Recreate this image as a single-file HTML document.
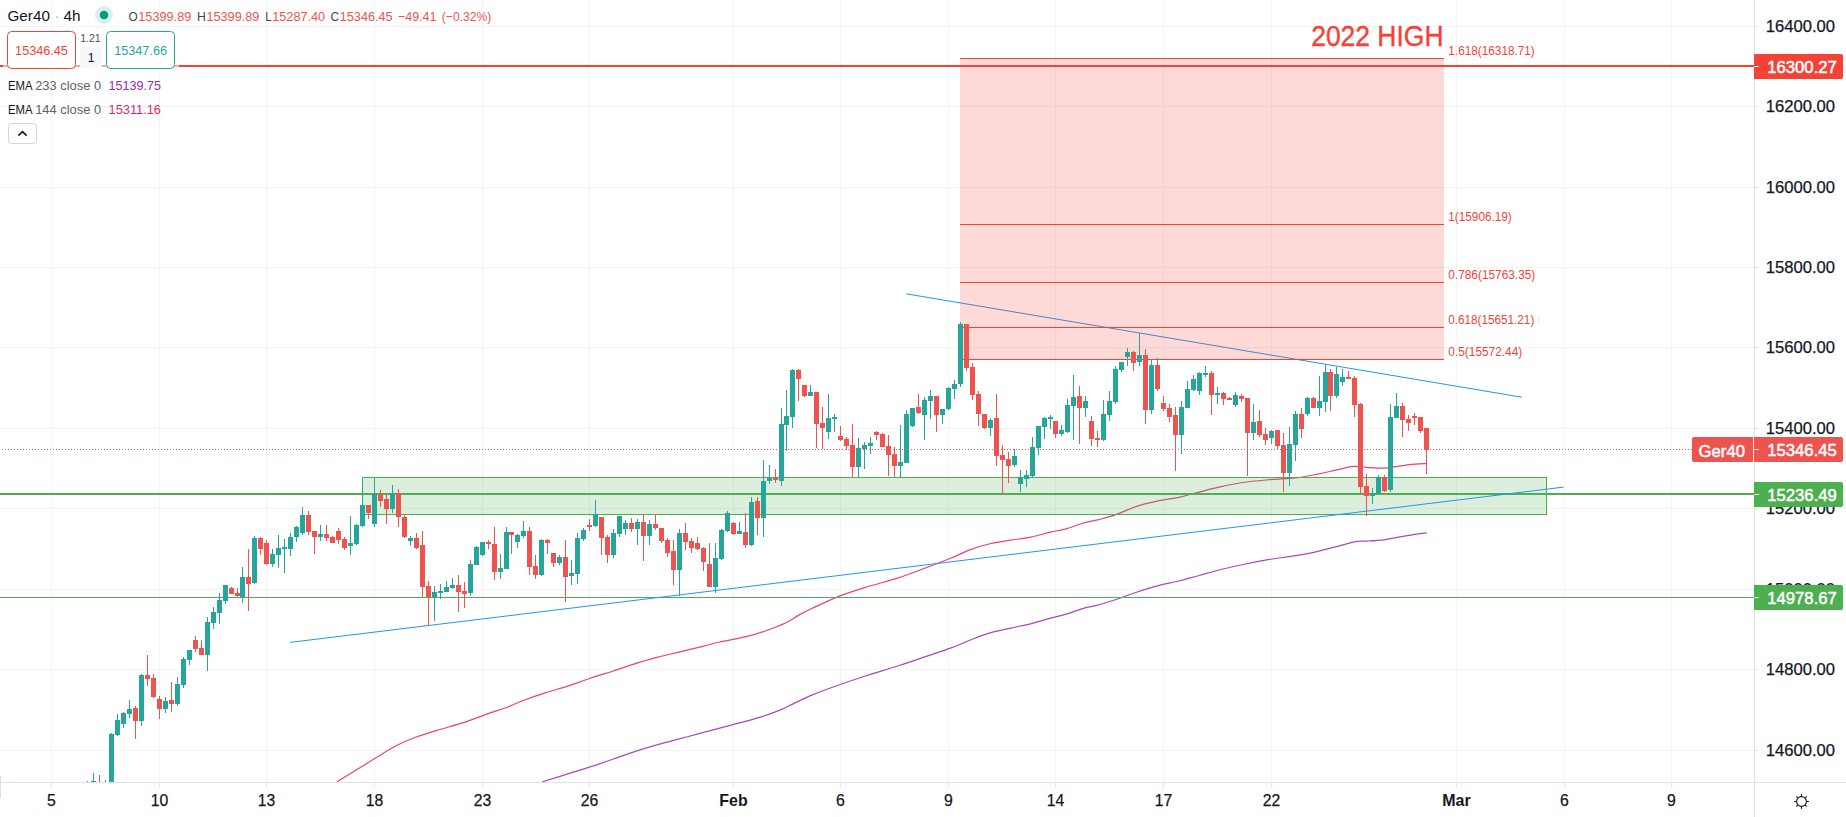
<!DOCTYPE html>
<html><head><meta charset="utf-8"><title>Ger40 4h chart</title>
<style>html,body{margin:0;padding:0;background:#fff;overflow:hidden}svg{display:block}text{font-family:"Liberation Sans", sans-serif;white-space:pre}</style></head><body>
<svg width="1846" height="817" viewBox="0 0 1846 817">
<rect width="1846" height="817" fill="#fff"/>
<defs><clipPath id="pane"><rect x="0" y="0" width="1754" height="782"/></clipPath></defs>
<g shape-rendering="crispEdges" fill="#f3f4f6">
<rect x="51" y="0" width="1" height="782"/>
<rect x="159" y="0" width="1" height="782"/>
<rect x="266" y="0" width="1" height="782"/>
<rect x="374" y="0" width="1" height="782"/>
<rect x="482" y="0" width="1" height="782"/>
<rect x="589" y="0" width="1" height="782"/>
<rect x="733" y="0" width="1" height="782"/>
<rect x="840" y="0" width="1" height="782"/>
<rect x="948" y="0" width="1" height="782"/>
<rect x="1055" y="0" width="1" height="782"/>
<rect x="1163" y="0" width="1" height="782"/>
<rect x="1271" y="0" width="1" height="782"/>
<rect x="1456" y="0" width="1" height="782"/>
<rect x="1564" y="0" width="1" height="782"/>
<rect x="1671" y="0" width="1" height="782"/>
<rect x="0" y="26" width="1754" height="1"/>
<rect x="0" y="106" width="1754" height="1"/>
<rect x="0" y="187" width="1754" height="1"/>
<rect x="0" y="267" width="1754" height="1"/>
<rect x="0" y="347" width="1754" height="1"/>
<rect x="0" y="428" width="1754" height="1"/>
<rect x="0" y="508" width="1754" height="1"/>
<rect x="0" y="589" width="1754" height="1"/>
<rect x="0" y="669" width="1754" height="1"/>
<rect x="0" y="750" width="1754" height="1"/>
</g>
<g clip-path="url(#pane)">
<path fill="none" stroke="#ab47bc" stroke-width="1.2" d="M542.4 781.8 C546.6 780.5 559.7 776.4 567.7 773.9 C575.7 771.4 582.7 769.3 590.2 766.9 C597.7 764.5 605.2 761.9 612.7 759.3 C620.2 756.7 627.8 753.8 635.3 751.4 C642.8 749.0 650.3 746.8 657.8 744.7 C665.3 742.6 672.8 740.7 680.3 738.7 C687.8 736.7 694.0 735.0 702.8 732.6 C711.6 730.2 723.6 727.1 733.1 724.6 C742.6 722.1 751.8 719.8 759.5 717.4 C767.2 715.0 773.8 712.6 779.3 710.4 C784.8 708.2 787.1 706.7 792.6 704.1 C798.1 701.5 804.7 698.1 812.4 694.9 C820.1 691.7 830.0 688.1 838.8 685.0 C847.6 681.9 855.4 679.2 865.3 676.0 C875.2 672.8 888.4 669.0 898.3 665.8 C908.2 662.6 916.0 659.9 924.8 656.9 C933.6 653.9 943.5 650.8 951.2 647.9 C958.9 645.0 964.5 642.2 971.1 639.7 C977.7 637.2 984.3 634.6 990.9 632.7 C997.5 630.8 1004.1 629.6 1010.7 628.1 C1017.3 626.6 1024.0 625.4 1030.6 623.8 C1037.2 622.1 1044.4 619.9 1050.4 618.2 C1056.5 616.6 1061.4 615.5 1066.9 613.9 C1072.4 612.2 1078.4 609.8 1083.5 608.3 C1088.6 606.8 1092.3 606.6 1097.6 605.2 C1102.9 603.8 1108.7 601.9 1115.3 599.7 C1121.9 597.5 1130.0 594.4 1137.3 592.0 C1144.6 589.6 1152.3 587.2 1159.3 585.4 C1166.3 583.6 1172.5 582.6 1179.1 581.0 C1185.7 579.4 1192.0 577.4 1199.0 575.5 C1206.0 573.6 1213.7 571.3 1221.0 569.5 C1228.3 567.7 1234.9 566.2 1243.0 564.5 C1251.1 562.8 1260.7 560.9 1269.5 559.4 C1278.3 557.9 1287.8 557.1 1295.9 555.7 C1304.0 554.4 1311.3 552.8 1317.9 551.3 C1324.5 549.8 1329.5 548.5 1335.6 546.9 C1341.7 545.3 1349.2 542.8 1354.3 541.8 C1359.4 540.8 1361.5 541.4 1366.4 541.1 C1371.4 540.8 1378.8 540.4 1384.0 539.8 C1389.2 539.2 1392.1 538.3 1397.3 537.4 C1402.5 536.5 1410.0 535.1 1414.9 534.3 C1419.8 533.5 1424.8 533.0 1426.8 532.8"/>
<path fill="none" stroke="#ec407a" stroke-width="1.2" d="M336.9 781.8 C340.2 779.8 350.0 773.7 356.6 769.7 C363.2 765.7 369.7 761.6 376.3 757.6 C382.9 753.6 389.4 749.2 396.0 745.8 C402.6 742.4 408.7 739.9 415.7 737.3 C422.7 734.7 430.0 732.5 438.2 730.0 C446.4 727.5 456.6 724.9 465.0 722.1 C473.4 719.3 482.1 715.8 488.9 713.4 C495.7 711.0 500.2 709.9 505.8 707.8 C511.4 705.7 516.1 703.2 522.7 700.7 C529.3 698.2 537.7 695.3 545.2 692.9 C552.7 690.5 560.2 688.5 567.7 686.1 C575.2 683.7 582.7 680.7 590.2 678.2 C597.7 675.7 605.2 673.6 612.7 671.2 C620.2 668.8 627.8 666.0 635.3 663.6 C642.8 661.2 650.3 659.1 657.8 657.1 C665.3 655.1 672.8 653.6 680.3 651.8 C687.8 650.0 696.2 648.0 702.8 646.4 C709.4 644.8 712.5 643.6 719.8 642.0 C727.0 640.4 738.6 638.6 746.3 636.7 C754.0 634.8 759.5 633.0 766.1 630.7 C772.7 628.4 780.5 625.4 786.0 622.8 C791.5 620.2 794.8 617.3 799.2 614.9 C803.6 612.5 805.8 611.4 812.4 608.3 C819.0 605.2 830.0 599.9 838.8 596.4 C847.6 592.9 855.4 590.5 865.3 587.4 C875.2 584.3 888.4 581.1 898.3 577.9 C908.2 574.7 916.0 571.6 924.8 568.3 C933.6 565.0 943.5 561.1 951.2 558.0 C958.9 554.9 964.5 551.8 971.1 549.4 C977.7 547.0 984.3 545.0 990.9 543.5 C997.5 542.0 1004.1 541.2 1010.7 540.2 C1017.3 539.2 1024.0 538.5 1030.6 537.2 C1037.2 535.9 1044.4 533.6 1050.4 532.2 C1056.5 530.8 1061.4 530.1 1066.9 528.6 C1072.4 527.1 1078.4 524.5 1083.5 523.0 C1088.6 521.5 1092.3 521.1 1097.6 519.8 C1102.9 518.4 1108.7 517.2 1115.3 514.9 C1121.9 512.6 1130.0 508.5 1137.3 506.1 C1144.6 503.7 1152.3 502.1 1159.3 500.6 C1166.3 499.1 1172.5 498.7 1179.1 497.3 C1185.7 495.9 1192.0 494.0 1199.0 492.2 C1206.0 490.4 1213.7 488.3 1221.0 486.7 C1228.3 485.1 1234.9 483.7 1243.0 482.5 C1251.1 481.3 1260.7 480.5 1269.5 479.7 C1278.3 478.9 1287.8 478.8 1295.9 477.9 C1304.0 477.0 1311.3 475.4 1317.9 474.1 C1324.5 472.8 1329.7 471.5 1335.6 470.2 C1341.5 468.9 1348.1 466.9 1353.2 466.4 C1358.3 465.9 1361.3 467.0 1366.4 467.3 C1371.5 467.6 1378.8 468.4 1384.0 468.2 C1389.2 468.0 1392.1 467.1 1397.3 466.4 C1402.5 465.7 1410.1 464.7 1414.9 464.2 C1419.7 463.7 1424.4 463.7 1426.3 463.6"/>
</g>
<g clip-path="url(#pane)">
<line x1="906.1" y1="293.8" x2="1521.8" y2="397.2" stroke="#2196f3" stroke-width="1"/>
<rect x="960" y="58" width="484" height="302" fill="#f44336" fill-opacity="0.2"/>
<g shape-rendering="crispEdges" fill="#f44336">
<rect x="960" y="58" width="484" height="1"/>
<rect x="960" y="224" width="484" height="1"/>
<rect x="960" y="282" width="484" height="1"/>
<rect x="960" y="327" width="484" height="1"/>
<rect x="960" y="359" width="484" height="1"/>
<rect x="0" y="65" width="1754" height="2"/>
</g>
<rect x="362.5" y="477.5" width="1184" height="37" fill="#4caf50" fill-opacity="0.2" stroke="#4caf50" stroke-width="1"/>
<g shape-rendering="crispEdges" fill="#4caf50">
<rect x="0" y="493" width="1754" height="2"/>
<rect x="0" y="597" width="1754" height="1"/>
</g>
<line x1="290.1" y1="642.4" x2="1563.7" y2="487.1" stroke="#2196f3" stroke-width="1"/>
<rect x="1538" y="317" width="1" height="5" fill="#f44336" fill-opacity="0.18"/>
<text x="1311.2" y="46.0" font-size="29" fill="#f44336" textLength="132.3" lengthAdjust="spacingAndGlyphs" stroke="#f44336" stroke-width="0.4">2022 HIGH</text>
<text x="1448.3" y="55.1" font-size="12" fill="#f44336" textLength="86.5" lengthAdjust="spacingAndGlyphs">1.618(16318.71)</text>
<text x="1448.3" y="221.0" font-size="12" fill="#f44336" textLength="63.5" lengthAdjust="spacingAndGlyphs">1(15906.19)</text>
<text x="1448.3" y="279.1" font-size="12" fill="#f44336" textLength="87.0" lengthAdjust="spacingAndGlyphs">0.786(15763.35)</text>
<text x="1448.3" y="324.1" font-size="12" fill="#f44336" textLength="86.0" lengthAdjust="spacingAndGlyphs">0.618(15651.21)</text>
<text x="1448.3" y="355.9" font-size="12" fill="#f44336" textLength="74.0" lengthAdjust="spacingAndGlyphs">0.5(15572.44)</text>
</g>
<g clip-path="url(#pane)" shape-rendering="crispEdges">
<rect x="87" y="781" width="1" height="7" fill="#26a69a"/><rect x="85" y="787" width="5" height="1" fill="#26a69a"/>
<rect x="93" y="773" width="1" height="14" fill="#26a69a"/><rect x="91" y="781" width="5" height="6" fill="#26a69a"/>
<rect x="99" y="775" width="1" height="13" fill="#ef5350"/><rect x="97" y="787" width="5" height="1" fill="#ef5350"/>
<rect x="105" y="780" width="1" height="8" fill="#26a69a"/><rect x="103" y="787" width="5" height="1" fill="#26a69a"/>
<rect x="111" y="733" width="1" height="54" fill="#26a69a"/><rect x="109" y="734" width="5" height="53" fill="#26a69a"/>
<rect x="117" y="714" width="1" height="22" fill="#26a69a"/><rect x="115" y="720" width="5" height="15" fill="#26a69a"/>
<rect x="123" y="712" width="1" height="16" fill="#26a69a"/><rect x="121" y="713" width="5" height="11" fill="#26a69a"/>
<rect x="129" y="700" width="1" height="18" fill="#26a69a"/><rect x="127" y="709" width="5" height="5" fill="#26a69a"/>
<rect x="135" y="706" width="1" height="33" fill="#ef5350"/><rect x="133" y="708" width="5" height="13" fill="#ef5350"/>
<rect x="141" y="674" width="1" height="52" fill="#26a69a"/><rect x="139" y="675" width="5" height="46" fill="#26a69a"/>
<rect x="147" y="655" width="1" height="31" fill="#ef5350"/><rect x="145" y="675" width="5" height="4" fill="#ef5350"/>
<rect x="153" y="674" width="1" height="24" fill="#ef5350"/><rect x="151" y="678" width="5" height="19" fill="#ef5350"/>
<rect x="159" y="696" width="1" height="23" fill="#ef5350"/><rect x="157" y="699" width="5" height="10" fill="#ef5350"/>
<rect x="165" y="697" width="1" height="16" fill="#26a69a"/><rect x="163" y="701" width="5" height="8" fill="#26a69a"/>
<rect x="171" y="682" width="1" height="30" fill="#ef5350"/><rect x="169" y="700" width="5" height="4" fill="#ef5350"/>
<rect x="177" y="677" width="1" height="29" fill="#26a69a"/><rect x="175" y="684" width="5" height="20" fill="#26a69a"/>
<rect x="183" y="657" width="1" height="31" fill="#26a69a"/><rect x="181" y="659" width="5" height="26" fill="#26a69a"/>
<rect x="189" y="650" width="1" height="15" fill="#26a69a"/><rect x="187" y="650" width="5" height="10" fill="#26a69a"/>
<rect x="195" y="636" width="1" height="16" fill="#ef5350"/><rect x="193" y="640" width="5" height="9" fill="#ef5350"/>
<rect x="201" y="640" width="1" height="15" fill="#ef5350"/><rect x="199" y="648" width="5" height="7" fill="#ef5350"/>
<rect x="207" y="617" width="1" height="54" fill="#26a69a"/><rect x="205" y="622" width="5" height="33" fill="#26a69a"/>
<rect x="213" y="607" width="1" height="22" fill="#26a69a"/><rect x="211" y="612" width="5" height="11" fill="#26a69a"/>
<rect x="219" y="593" width="1" height="31" fill="#26a69a"/><rect x="217" y="600" width="5" height="13" fill="#26a69a"/>
<rect x="225" y="585" width="1" height="19" fill="#26a69a"/><rect x="223" y="585" width="5" height="16" fill="#26a69a"/>
<rect x="231" y="587" width="1" height="7" fill="#ef5350"/><rect x="229" y="588" width="5" height="6" fill="#ef5350"/>
<rect x="237" y="588" width="1" height="9" fill="#ef5350"/><rect x="235" y="593" width="5" height="3" fill="#ef5350"/>
<rect x="242" y="567" width="1" height="36" fill="#26a69a"/><rect x="240" y="577" width="5" height="20" fill="#26a69a"/>
<rect x="248" y="549" width="1" height="62" fill="#ef5350"/><rect x="246" y="577" width="5" height="7" fill="#ef5350"/>
<rect x="254" y="536" width="1" height="48" fill="#26a69a"/><rect x="252" y="538" width="5" height="45" fill="#26a69a"/>
<rect x="260" y="537" width="1" height="18" fill="#ef5350"/><rect x="258" y="538" width="5" height="11" fill="#ef5350"/>
<rect x="266" y="540" width="1" height="25" fill="#ef5350"/><rect x="264" y="543" width="5" height="21" fill="#ef5350"/>
<rect x="272" y="549" width="1" height="18" fill="#26a69a"/><rect x="270" y="554" width="5" height="10" fill="#26a69a"/>
<rect x="278" y="535" width="1" height="33" fill="#26a69a"/><rect x="276" y="548" width="5" height="7" fill="#26a69a"/>
<rect x="284" y="539" width="1" height="34" fill="#26a69a"/><rect x="282" y="547" width="5" height="2" fill="#26a69a"/>
<rect x="290" y="533" width="1" height="23" fill="#26a69a"/><rect x="288" y="537" width="5" height="12" fill="#26a69a"/>
<rect x="296" y="526" width="1" height="16" fill="#26a69a"/><rect x="294" y="527" width="5" height="10" fill="#26a69a"/>
<rect x="302" y="507" width="1" height="28" fill="#26a69a"/><rect x="300" y="515" width="5" height="18" fill="#26a69a"/>
<rect x="308" y="511" width="1" height="24" fill="#ef5350"/><rect x="306" y="515" width="5" height="17" fill="#ef5350"/>
<rect x="314" y="531" width="1" height="23" fill="#ef5350"/><rect x="312" y="531" width="5" height="6" fill="#ef5350"/>
<rect x="320" y="525" width="1" height="16" fill="#26a69a"/><rect x="318" y="534" width="5" height="3" fill="#26a69a"/>
<rect x="326" y="525" width="1" height="16" fill="#ef5350"/><rect x="324" y="534" width="5" height="4" fill="#ef5350"/>
<rect x="332" y="536" width="1" height="7" fill="#ef5350"/><rect x="330" y="537" width="5" height="6" fill="#ef5350"/>
<rect x="338" y="528" width="1" height="16" fill="#ef5350"/><rect x="336" y="531" width="5" height="9" fill="#ef5350"/>
<rect x="344" y="537" width="1" height="13" fill="#ef5350"/><rect x="342" y="539" width="5" height="9" fill="#ef5350"/>
<rect x="350" y="516" width="1" height="39" fill="#26a69a"/><rect x="348" y="543" width="5" height="3" fill="#26a69a"/>
<rect x="356" y="524" width="1" height="21" fill="#26a69a"/><rect x="354" y="525" width="5" height="19" fill="#26a69a"/>
<rect x="362" y="477" width="1" height="50" fill="#26a69a"/><rect x="360" y="505" width="5" height="21" fill="#26a69a"/>
<rect x="368" y="505" width="1" height="14" fill="#ef5350"/><rect x="366" y="505" width="5" height="8" fill="#ef5350"/>
<rect x="374" y="477" width="1" height="50" fill="#26a69a"/><rect x="372" y="494" width="5" height="30" fill="#26a69a"/>
<rect x="380" y="490" width="1" height="17" fill="#ef5350"/><rect x="378" y="494" width="5" height="7" fill="#ef5350"/>
<rect x="386" y="495" width="1" height="29" fill="#ef5350"/><rect x="384" y="499" width="5" height="10" fill="#ef5350"/>
<rect x="392" y="485" width="1" height="28" fill="#26a69a"/><rect x="390" y="493" width="5" height="16" fill="#26a69a"/>
<rect x="398" y="489" width="1" height="38" fill="#ef5350"/><rect x="396" y="493" width="5" height="24" fill="#ef5350"/>
<rect x="404" y="514" width="1" height="24" fill="#ef5350"/><rect x="402" y="517" width="5" height="20" fill="#ef5350"/>
<rect x="410" y="536" width="1" height="10" fill="#26a69a"/><rect x="408" y="538" width="5" height="3" fill="#26a69a"/>
<rect x="416" y="533" width="1" height="16" fill="#ef5350"/><rect x="414" y="538" width="5" height="10" fill="#ef5350"/>
<rect x="422" y="531" width="1" height="66" fill="#ef5350"/><rect x="420" y="545" width="5" height="42" fill="#ef5350"/>
<rect x="428" y="581" width="1" height="45" fill="#ef5350"/><rect x="426" y="586" width="5" height="11" fill="#ef5350"/>
<rect x="434" y="586" width="1" height="35" fill="#26a69a"/><rect x="432" y="592" width="5" height="5" fill="#26a69a"/>
<rect x="440" y="584" width="1" height="15" fill="#26a69a"/><rect x="438" y="591" width="5" height="2" fill="#26a69a"/>
<rect x="446" y="581" width="1" height="11" fill="#26a69a"/><rect x="444" y="587" width="5" height="5" fill="#26a69a"/>
<rect x="452" y="578" width="1" height="11" fill="#26a69a"/><rect x="450" y="585" width="5" height="3" fill="#26a69a"/>
<rect x="458" y="575" width="1" height="37" fill="#ef5350"/><rect x="456" y="585" width="5" height="7" fill="#ef5350"/>
<rect x="464" y="582" width="1" height="26" fill="#ef5350"/><rect x="462" y="591" width="5" height="3" fill="#ef5350"/>
<rect x="470" y="560" width="1" height="36" fill="#26a69a"/><rect x="468" y="564" width="5" height="29" fill="#26a69a"/>
<rect x="476" y="546" width="1" height="19" fill="#26a69a"/><rect x="474" y="547" width="5" height="18" fill="#26a69a"/>
<rect x="482" y="542" width="1" height="14" fill="#26a69a"/><rect x="480" y="542" width="5" height="13" fill="#26a69a"/>
<rect x="488" y="540" width="1" height="9" fill="#ef5350"/><rect x="486" y="542" width="5" height="2" fill="#ef5350"/>
<rect x="494" y="527" width="1" height="53" fill="#ef5350"/><rect x="492" y="544" width="5" height="28" fill="#ef5350"/>
<rect x="500" y="554" width="1" height="25" fill="#26a69a"/><rect x="498" y="568" width="5" height="4" fill="#26a69a"/>
<rect x="506" y="527" width="1" height="42" fill="#26a69a"/><rect x="504" y="532" width="5" height="37" fill="#26a69a"/>
<rect x="511" y="532" width="1" height="22" fill="#ef5350"/><rect x="509" y="532" width="5" height="3" fill="#ef5350"/>
<rect x="517" y="534" width="1" height="14" fill="#26a69a"/><rect x="515" y="535" width="5" height="7" fill="#26a69a"/>
<rect x="523" y="521" width="1" height="17" fill="#26a69a"/><rect x="521" y="531" width="5" height="5" fill="#26a69a"/>
<rect x="529" y="527" width="1" height="48" fill="#ef5350"/><rect x="527" y="531" width="5" height="36" fill="#ef5350"/>
<rect x="535" y="555" width="1" height="24" fill="#ef5350"/><rect x="533" y="566" width="5" height="9" fill="#ef5350"/>
<rect x="541" y="539" width="1" height="37" fill="#26a69a"/><rect x="539" y="540" width="5" height="35" fill="#26a69a"/>
<rect x="547" y="539" width="1" height="15" fill="#ef5350"/><rect x="545" y="540" width="5" height="3" fill="#ef5350"/>
<rect x="553" y="553" width="1" height="14" fill="#ef5350"/><rect x="551" y="553" width="5" height="10" fill="#ef5350"/>
<rect x="559" y="555" width="1" height="10" fill="#26a69a"/><rect x="557" y="557" width="5" height="6" fill="#26a69a"/>
<rect x="565" y="540" width="1" height="62" fill="#ef5350"/><rect x="563" y="557" width="5" height="20" fill="#ef5350"/>
<rect x="571" y="560" width="1" height="25" fill="#26a69a"/><rect x="569" y="573" width="5" height="3" fill="#26a69a"/>
<rect x="577" y="533" width="1" height="51" fill="#26a69a"/><rect x="575" y="538" width="5" height="36" fill="#26a69a"/>
<rect x="583" y="528" width="1" height="13" fill="#26a69a"/><rect x="581" y="530" width="5" height="9" fill="#26a69a"/>
<rect x="589" y="519" width="1" height="12" fill="#ef5350"/><rect x="587" y="525" width="5" height="2" fill="#ef5350"/>
<rect x="595" y="500" width="1" height="27" fill="#26a69a"/><rect x="593" y="514" width="5" height="12" fill="#26a69a"/>
<rect x="601" y="517" width="1" height="38" fill="#ef5350"/><rect x="599" y="517" width="5" height="21" fill="#ef5350"/>
<rect x="607" y="535" width="1" height="28" fill="#ef5350"/><rect x="605" y="537" width="5" height="18" fill="#ef5350"/>
<rect x="613" y="529" width="1" height="29" fill="#26a69a"/><rect x="611" y="533" width="5" height="22" fill="#26a69a"/>
<rect x="619" y="516" width="1" height="21" fill="#26a69a"/><rect x="617" y="516" width="5" height="18" fill="#26a69a"/>
<rect x="625" y="520" width="1" height="15" fill="#26a69a"/><rect x="623" y="523" width="5" height="6" fill="#26a69a"/>
<rect x="631" y="518" width="1" height="14" fill="#ef5350"/><rect x="629" y="523" width="5" height="6" fill="#ef5350"/>
<rect x="637" y="519" width="1" height="26" fill="#26a69a"/><rect x="635" y="522" width="5" height="7" fill="#26a69a"/>
<rect x="643" y="514" width="1" height="47" fill="#ef5350"/><rect x="641" y="522" width="5" height="14" fill="#ef5350"/>
<rect x="649" y="520" width="1" height="25" fill="#26a69a"/><rect x="647" y="524" width="5" height="12" fill="#26a69a"/>
<rect x="655" y="514" width="1" height="16" fill="#ef5350"/><rect x="653" y="524" width="5" height="4" fill="#ef5350"/>
<rect x="661" y="528" width="1" height="15" fill="#ef5350"/><rect x="659" y="528" width="5" height="13" fill="#ef5350"/>
<rect x="667" y="538" width="1" height="19" fill="#ef5350"/><rect x="665" y="540" width="5" height="13" fill="#ef5350"/>
<rect x="673" y="540" width="1" height="45" fill="#ef5350"/><rect x="671" y="551" width="5" height="19" fill="#ef5350"/>
<rect x="679" y="529" width="1" height="67" fill="#26a69a"/><rect x="677" y="533" width="5" height="37" fill="#26a69a"/>
<rect x="685" y="523" width="1" height="27" fill="#ef5350"/><rect x="683" y="533" width="5" height="9" fill="#ef5350"/>
<rect x="691" y="538" width="1" height="15" fill="#ef5350"/><rect x="689" y="541" width="5" height="7" fill="#ef5350"/>
<rect x="697" y="537" width="1" height="13" fill="#ef5350"/><rect x="695" y="543" width="5" height="6" fill="#ef5350"/>
<rect x="703" y="547" width="1" height="24" fill="#ef5350"/><rect x="701" y="548" width="5" height="14" fill="#ef5350"/>
<rect x="709" y="543" width="1" height="44" fill="#ef5350"/><rect x="707" y="564" width="5" height="23" fill="#ef5350"/>
<rect x="715" y="543" width="1" height="50" fill="#26a69a"/><rect x="713" y="558" width="5" height="29" fill="#26a69a"/>
<rect x="721" y="529" width="1" height="31" fill="#26a69a"/><rect x="719" y="530" width="5" height="29" fill="#26a69a"/>
<rect x="727" y="511" width="1" height="21" fill="#26a69a"/><rect x="725" y="513" width="5" height="18" fill="#26a69a"/>
<rect x="733" y="522" width="1" height="13" fill="#ef5350"/><rect x="731" y="523" width="5" height="11" fill="#ef5350"/>
<rect x="739" y="522" width="1" height="12" fill="#26a69a"/><rect x="737" y="531" width="5" height="3" fill="#26a69a"/>
<rect x="745" y="513" width="1" height="35" fill="#ef5350"/><rect x="743" y="532" width="5" height="13" fill="#ef5350"/>
<rect x="751" y="497" width="1" height="49" fill="#26a69a"/><rect x="749" y="502" width="5" height="43" fill="#26a69a"/>
<rect x="757" y="497" width="1" height="38" fill="#ef5350"/><rect x="755" y="501" width="5" height="17" fill="#ef5350"/>
<rect x="763" y="460" width="1" height="77" fill="#26a69a"/><rect x="761" y="481" width="5" height="37" fill="#26a69a"/>
<rect x="769" y="465" width="1" height="19" fill="#26a69a"/><rect x="767" y="478" width="5" height="3" fill="#26a69a"/>
<rect x="775" y="469" width="1" height="14" fill="#ef5350"/><rect x="773" y="478" width="5" height="2" fill="#ef5350"/>
<rect x="781" y="408" width="1" height="78" fill="#26a69a"/><rect x="779" y="424" width="5" height="57" fill="#26a69a"/>
<rect x="786" y="390" width="1" height="61" fill="#26a69a"/><rect x="784" y="416" width="5" height="9" fill="#26a69a"/>
<rect x="792" y="369" width="1" height="59" fill="#26a69a"/><rect x="790" y="370" width="5" height="47" fill="#26a69a"/>
<rect x="798" y="369" width="1" height="32" fill="#ef5350"/><rect x="796" y="370" width="5" height="9" fill="#ef5350"/>
<rect x="804" y="385" width="1" height="12" fill="#ef5350"/><rect x="802" y="385" width="5" height="11" fill="#ef5350"/>
<rect x="810" y="385" width="1" height="11" fill="#26a69a"/><rect x="808" y="392" width="5" height="4" fill="#26a69a"/>
<rect x="816" y="392" width="1" height="56" fill="#ef5350"/><rect x="814" y="392" width="5" height="32" fill="#ef5350"/>
<rect x="822" y="407" width="1" height="42" fill="#ef5350"/><rect x="820" y="423" width="5" height="5" fill="#ef5350"/>
<rect x="828" y="394" width="1" height="45" fill="#26a69a"/><rect x="826" y="418" width="5" height="14" fill="#26a69a"/>
<rect x="834" y="414" width="1" height="18" fill="#26a69a"/><rect x="832" y="417" width="5" height="2" fill="#26a69a"/>
<rect x="840" y="426" width="1" height="15" fill="#ef5350"/><rect x="838" y="436" width="5" height="4" fill="#ef5350"/>
<rect x="846" y="437" width="1" height="13" fill="#ef5350"/><rect x="844" y="439" width="5" height="7" fill="#ef5350"/>
<rect x="852" y="424" width="1" height="53" fill="#ef5350"/><rect x="850" y="445" width="5" height="22" fill="#ef5350"/>
<rect x="858" y="438" width="1" height="39" fill="#26a69a"/><rect x="856" y="448" width="5" height="19" fill="#26a69a"/>
<rect x="864" y="442" width="1" height="27" fill="#26a69a"/><rect x="862" y="445" width="5" height="4" fill="#26a69a"/>
<rect x="870" y="437" width="1" height="17" fill="#26a69a"/><rect x="868" y="443" width="5" height="3" fill="#26a69a"/>
<rect x="876" y="431" width="1" height="9" fill="#ef5350"/><rect x="874" y="432" width="5" height="3" fill="#ef5350"/>
<rect x="882" y="433" width="1" height="14" fill="#ef5350"/><rect x="880" y="434" width="5" height="13" fill="#ef5350"/>
<rect x="888" y="435" width="1" height="41" fill="#ef5350"/><rect x="886" y="446" width="5" height="9" fill="#ef5350"/>
<rect x="894" y="447" width="1" height="30" fill="#ef5350"/><rect x="892" y="454" width="5" height="12" fill="#ef5350"/>
<rect x="900" y="425" width="1" height="52" fill="#26a69a"/><rect x="898" y="462" width="5" height="4" fill="#26a69a"/>
<rect x="906" y="410" width="1" height="53" fill="#26a69a"/><rect x="904" y="414" width="5" height="49" fill="#26a69a"/>
<rect x="912" y="408" width="1" height="19" fill="#26a69a"/><rect x="910" y="408" width="5" height="18" fill="#26a69a"/>
<rect x="918" y="394" width="1" height="20" fill="#ef5350"/><rect x="916" y="407" width="5" height="6" fill="#ef5350"/>
<rect x="924" y="397" width="1" height="43" fill="#26a69a"/><rect x="922" y="400" width="5" height="15" fill="#26a69a"/>
<rect x="930" y="390" width="1" height="29" fill="#26a69a"/><rect x="928" y="396" width="5" height="5" fill="#26a69a"/>
<rect x="936" y="396" width="1" height="36" fill="#ef5350"/><rect x="934" y="396" width="5" height="19" fill="#ef5350"/>
<rect x="942" y="409" width="1" height="15" fill="#26a69a"/><rect x="940" y="409" width="5" height="6" fill="#26a69a"/>
<rect x="948" y="387" width="1" height="23" fill="#26a69a"/><rect x="946" y="388" width="5" height="21" fill="#26a69a"/>
<rect x="954" y="380" width="1" height="19" fill="#26a69a"/><rect x="952" y="384" width="5" height="5" fill="#26a69a"/>
<rect x="960" y="322" width="1" height="65" fill="#26a69a"/><rect x="958" y="324" width="5" height="60" fill="#26a69a"/>
<rect x="966" y="324" width="1" height="47" fill="#ef5350"/><rect x="964" y="324" width="5" height="44" fill="#ef5350"/>
<rect x="972" y="363" width="1" height="37" fill="#ef5350"/><rect x="970" y="367" width="5" height="28" fill="#ef5350"/>
<rect x="978" y="391" width="1" height="35" fill="#ef5350"/><rect x="976" y="394" width="5" height="20" fill="#ef5350"/>
<rect x="984" y="414" width="1" height="15" fill="#ef5350"/><rect x="982" y="414" width="5" height="14" fill="#ef5350"/>
<rect x="990" y="418" width="1" height="18" fill="#26a69a"/><rect x="988" y="420" width="5" height="8" fill="#26a69a"/>
<rect x="996" y="394" width="1" height="72" fill="#ef5350"/><rect x="994" y="418" width="5" height="38" fill="#ef5350"/>
<rect x="1002" y="445" width="1" height="50" fill="#ef5350"/><rect x="1000" y="455" width="5" height="5" fill="#ef5350"/>
<rect x="1008" y="452" width="1" height="31" fill="#ef5350"/><rect x="1006" y="459" width="5" height="7" fill="#ef5350"/>
<rect x="1014" y="449" width="1" height="18" fill="#26a69a"/><rect x="1012" y="456" width="5" height="9" fill="#26a69a"/>
<rect x="1020" y="470" width="1" height="22" fill="#26a69a"/><rect x="1018" y="477" width="5" height="7" fill="#26a69a"/>
<rect x="1026" y="470" width="1" height="17" fill="#26a69a"/><rect x="1024" y="475" width="5" height="4" fill="#26a69a"/>
<rect x="1032" y="437" width="1" height="40" fill="#26a69a"/><rect x="1030" y="447" width="5" height="29" fill="#26a69a"/>
<rect x="1038" y="426" width="1" height="29" fill="#26a69a"/><rect x="1036" y="426" width="5" height="22" fill="#26a69a"/>
<rect x="1044" y="417" width="1" height="22" fill="#26a69a"/><rect x="1042" y="418" width="5" height="9" fill="#26a69a"/>
<rect x="1050" y="415" width="1" height="14" fill="#26a69a"/><rect x="1048" y="417" width="5" height="2" fill="#26a69a"/>
<rect x="1055" y="421" width="1" height="17" fill="#ef5350"/><rect x="1053" y="421" width="5" height="13" fill="#ef5350"/>
<rect x="1061" y="425" width="1" height="11" fill="#26a69a"/><rect x="1059" y="430" width="5" height="4" fill="#26a69a"/>
<rect x="1067" y="399" width="1" height="34" fill="#26a69a"/><rect x="1065" y="405" width="5" height="27" fill="#26a69a"/>
<rect x="1073" y="375" width="1" height="65" fill="#26a69a"/><rect x="1071" y="397" width="5" height="9" fill="#26a69a"/>
<rect x="1079" y="386" width="1" height="58" fill="#ef5350"/><rect x="1077" y="396" width="5" height="12" fill="#ef5350"/>
<rect x="1085" y="396" width="1" height="21" fill="#26a69a"/><rect x="1083" y="401" width="5" height="7" fill="#26a69a"/>
<rect x="1091" y="416" width="1" height="30" fill="#ef5350"/><rect x="1089" y="421" width="5" height="18" fill="#ef5350"/>
<rect x="1097" y="431" width="1" height="16" fill="#ef5350"/><rect x="1095" y="438" width="5" height="2" fill="#ef5350"/>
<rect x="1103" y="400" width="1" height="41" fill="#26a69a"/><rect x="1101" y="414" width="5" height="26" fill="#26a69a"/>
<rect x="1109" y="391" width="1" height="30" fill="#26a69a"/><rect x="1107" y="401" width="5" height="14" fill="#26a69a"/>
<rect x="1115" y="366" width="1" height="38" fill="#26a69a"/><rect x="1113" y="369" width="5" height="33" fill="#26a69a"/>
<rect x="1121" y="362" width="1" height="10" fill="#26a69a"/><rect x="1119" y="362" width="5" height="8" fill="#26a69a"/>
<rect x="1127" y="348" width="1" height="18" fill="#26a69a"/><rect x="1125" y="352" width="5" height="5" fill="#26a69a"/>
<rect x="1133" y="351" width="1" height="20" fill="#ef5350"/><rect x="1131" y="352" width="5" height="11" fill="#ef5350"/>
<rect x="1139" y="333" width="1" height="33" fill="#26a69a"/><rect x="1137" y="355" width="5" height="7" fill="#26a69a"/>
<rect x="1145" y="349" width="1" height="75" fill="#ef5350"/><rect x="1143" y="355" width="5" height="55" fill="#ef5350"/>
<rect x="1151" y="359" width="1" height="55" fill="#26a69a"/><rect x="1149" y="365" width="5" height="45" fill="#26a69a"/>
<rect x="1157" y="358" width="1" height="33" fill="#ef5350"/><rect x="1155" y="365" width="5" height="24" fill="#ef5350"/>
<rect x="1163" y="396" width="1" height="15" fill="#ef5350"/><rect x="1161" y="403" width="5" height="6" fill="#ef5350"/>
<rect x="1169" y="404" width="1" height="18" fill="#ef5350"/><rect x="1167" y="408" width="5" height="9" fill="#ef5350"/>
<rect x="1175" y="407" width="1" height="64" fill="#ef5350"/><rect x="1173" y="415" width="5" height="20" fill="#ef5350"/>
<rect x="1181" y="401" width="1" height="53" fill="#26a69a"/><rect x="1179" y="407" width="5" height="28" fill="#26a69a"/>
<rect x="1187" y="381" width="1" height="27" fill="#26a69a"/><rect x="1185" y="389" width="5" height="19" fill="#26a69a"/>
<rect x="1193" y="375" width="1" height="16" fill="#26a69a"/><rect x="1191" y="379" width="5" height="11" fill="#26a69a"/>
<rect x="1199" y="372" width="1" height="23" fill="#26a69a"/><rect x="1197" y="373" width="5" height="18" fill="#26a69a"/>
<rect x="1205" y="366" width="1" height="11" fill="#26a69a"/><rect x="1203" y="373" width="5" height="2" fill="#26a69a"/>
<rect x="1211" y="371" width="1" height="44" fill="#ef5350"/><rect x="1209" y="373" width="5" height="22" fill="#ef5350"/>
<rect x="1217" y="387" width="1" height="17" fill="#26a69a"/><rect x="1215" y="393" width="5" height="2" fill="#26a69a"/>
<rect x="1223" y="392" width="1" height="13" fill="#ef5350"/><rect x="1221" y="393" width="5" height="6" fill="#ef5350"/>
<rect x="1229" y="397" width="1" height="3" fill="#ef5350"/><rect x="1227" y="398" width="5" height="2" fill="#ef5350"/>
<rect x="1235" y="392" width="1" height="15" fill="#26a69a"/><rect x="1233" y="395" width="5" height="10" fill="#26a69a"/>
<rect x="1241" y="394" width="1" height="8" fill="#ef5350"/><rect x="1239" y="396" width="5" height="3" fill="#ef5350"/>
<rect x="1247" y="398" width="1" height="78" fill="#ef5350"/><rect x="1245" y="398" width="5" height="35" fill="#ef5350"/>
<rect x="1253" y="404" width="1" height="36" fill="#26a69a"/><rect x="1251" y="422" width="5" height="11" fill="#26a69a"/>
<rect x="1259" y="410" width="1" height="27" fill="#ef5350"/><rect x="1257" y="421" width="5" height="14" fill="#ef5350"/>
<rect x="1265" y="428" width="1" height="17" fill="#ef5350"/><rect x="1263" y="434" width="5" height="6" fill="#ef5350"/>
<rect x="1271" y="430" width="1" height="14" fill="#26a69a"/><rect x="1269" y="431" width="5" height="7" fill="#26a69a"/>
<rect x="1277" y="430" width="1" height="19" fill="#ef5350"/><rect x="1275" y="430" width="5" height="16" fill="#ef5350"/>
<rect x="1283" y="433" width="1" height="59" fill="#ef5350"/><rect x="1281" y="445" width="5" height="28" fill="#ef5350"/>
<rect x="1289" y="427" width="1" height="59" fill="#26a69a"/><rect x="1287" y="444" width="5" height="29" fill="#26a69a"/>
<rect x="1295" y="411" width="1" height="50" fill="#26a69a"/><rect x="1293" y="414" width="5" height="31" fill="#26a69a"/>
<rect x="1301" y="408" width="1" height="30" fill="#ef5350"/><rect x="1299" y="414" width="5" height="15" fill="#ef5350"/>
<rect x="1307" y="397" width="1" height="19" fill="#26a69a"/><rect x="1305" y="398" width="5" height="16" fill="#26a69a"/>
<rect x="1313" y="397" width="1" height="11" fill="#ef5350"/><rect x="1311" y="398" width="5" height="10" fill="#ef5350"/>
<rect x="1319" y="376" width="1" height="40" fill="#26a69a"/><rect x="1317" y="401" width="5" height="7" fill="#26a69a"/>
<rect x="1325" y="365" width="1" height="47" fill="#26a69a"/><rect x="1323" y="372" width="5" height="30" fill="#26a69a"/>
<rect x="1330" y="369" width="1" height="42" fill="#ef5350"/><rect x="1328" y="372" width="5" height="24" fill="#ef5350"/>
<rect x="1336" y="367" width="1" height="31" fill="#26a69a"/><rect x="1334" y="374" width="5" height="22" fill="#26a69a"/>
<rect x="1342" y="369" width="1" height="17" fill="#26a69a"/><rect x="1340" y="377" width="5" height="5" fill="#26a69a"/>
<rect x="1348" y="371" width="1" height="8" fill="#ef5350"/><rect x="1346" y="377" width="5" height="2" fill="#ef5350"/>
<rect x="1354" y="376" width="1" height="41" fill="#ef5350"/><rect x="1352" y="378" width="5" height="27" fill="#ef5350"/>
<rect x="1360" y="403" width="1" height="92" fill="#ef5350"/><rect x="1358" y="404" width="5" height="83" fill="#ef5350"/>
<rect x="1366" y="474" width="1" height="42" fill="#ef5350"/><rect x="1364" y="486" width="5" height="10" fill="#ef5350"/>
<rect x="1372" y="488" width="1" height="16" fill="#26a69a"/><rect x="1370" y="493" width="5" height="3" fill="#26a69a"/>
<rect x="1378" y="475" width="1" height="18" fill="#26a69a"/><rect x="1376" y="477" width="5" height="16" fill="#26a69a"/>
<rect x="1384" y="475" width="1" height="17" fill="#ef5350"/><rect x="1382" y="477" width="5" height="14" fill="#ef5350"/>
<rect x="1390" y="404" width="1" height="88" fill="#26a69a"/><rect x="1388" y="417" width="5" height="73" fill="#26a69a"/>
<rect x="1396" y="393" width="1" height="25" fill="#26a69a"/><rect x="1394" y="406" width="5" height="12" fill="#26a69a"/>
<rect x="1402" y="403" width="1" height="34" fill="#ef5350"/><rect x="1400" y="406" width="5" height="14" fill="#ef5350"/>
<rect x="1408" y="415" width="1" height="16" fill="#ef5350"/><rect x="1406" y="419" width="5" height="4" fill="#ef5350"/>
<rect x="1414" y="413" width="1" height="12" fill="#ef5350"/><rect x="1412" y="416" width="5" height="2" fill="#ef5350"/>
<rect x="1420" y="417" width="1" height="16" fill="#ef5350"/><rect x="1418" y="417" width="5" height="14" fill="#ef5350"/>
<rect x="1426" y="428" width="1" height="46" fill="#ef5350"/><rect x="1424" y="428" width="5" height="22" fill="#ef5350"/>
</g>
<g shape-rendering="crispEdges" fill="#ef5350">
<path d="M2 449h1v1h-1zM5 449h1v1h-1zM8 449h1v1h-1zM11 449h1v1h-1zM14 449h1v1h-1zM17 449h1v1h-1zM20 449h1v1h-1zM23 449h1v1h-1zM26 449h1v1h-1zM29 449h1v1h-1zM32 449h1v1h-1zM35 449h1v1h-1zM38 449h1v1h-1zM41 449h1v1h-1zM44 449h1v1h-1zM47 449h1v1h-1zM50 449h1v1h-1zM53 449h1v1h-1zM56 449h1v1h-1zM59 449h1v1h-1zM62 449h1v1h-1zM65 449h1v1h-1zM68 449h1v1h-1zM71 449h1v1h-1zM74 449h1v1h-1zM77 449h1v1h-1zM80 449h1v1h-1zM83 449h1v1h-1zM86 449h1v1h-1zM89 449h1v1h-1zM92 449h1v1h-1zM95 449h1v1h-1zM98 449h1v1h-1zM101 449h1v1h-1zM104 449h1v1h-1zM107 449h1v1h-1zM110 449h1v1h-1zM113 449h1v1h-1zM116 449h1v1h-1zM119 449h1v1h-1zM122 449h1v1h-1zM125 449h1v1h-1zM128 449h1v1h-1zM131 449h1v1h-1zM134 449h1v1h-1zM137 449h1v1h-1zM140 449h1v1h-1zM143 449h1v1h-1zM146 449h1v1h-1zM149 449h1v1h-1zM152 449h1v1h-1zM155 449h1v1h-1zM158 449h1v1h-1zM161 449h1v1h-1zM164 449h1v1h-1zM167 449h1v1h-1zM170 449h1v1h-1zM173 449h1v1h-1zM176 449h1v1h-1zM179 449h1v1h-1zM182 449h1v1h-1zM185 449h1v1h-1zM188 449h1v1h-1zM191 449h1v1h-1zM194 449h1v1h-1zM197 449h1v1h-1zM200 449h1v1h-1zM203 449h1v1h-1zM206 449h1v1h-1zM209 449h1v1h-1zM212 449h1v1h-1zM215 449h1v1h-1zM218 449h1v1h-1zM221 449h1v1h-1zM224 449h1v1h-1zM227 449h1v1h-1zM230 449h1v1h-1zM233 449h1v1h-1zM236 449h1v1h-1zM239 449h1v1h-1zM242 449h1v1h-1zM245 449h1v1h-1zM248 449h1v1h-1zM251 449h1v1h-1zM254 449h1v1h-1zM257 449h1v1h-1zM260 449h1v1h-1zM263 449h1v1h-1zM266 449h1v1h-1zM269 449h1v1h-1zM272 449h1v1h-1zM275 449h1v1h-1zM278 449h1v1h-1zM281 449h1v1h-1zM284 449h1v1h-1zM287 449h1v1h-1zM290 449h1v1h-1zM293 449h1v1h-1zM296 449h1v1h-1zM299 449h1v1h-1zM302 449h1v1h-1zM305 449h1v1h-1zM308 449h1v1h-1zM311 449h1v1h-1zM314 449h1v1h-1zM317 449h1v1h-1zM320 449h1v1h-1zM323 449h1v1h-1zM326 449h1v1h-1zM329 449h1v1h-1zM332 449h1v1h-1zM335 449h1v1h-1zM338 449h1v1h-1zM341 449h1v1h-1zM344 449h1v1h-1zM347 449h1v1h-1zM350 449h1v1h-1zM353 449h1v1h-1zM356 449h1v1h-1zM359 449h1v1h-1zM362 449h1v1h-1zM365 449h1v1h-1zM368 449h1v1h-1zM371 449h1v1h-1zM374 449h1v1h-1zM377 449h1v1h-1zM380 449h1v1h-1zM383 449h1v1h-1zM386 449h1v1h-1zM389 449h1v1h-1zM392 449h1v1h-1zM395 449h1v1h-1zM398 449h1v1h-1zM401 449h1v1h-1zM404 449h1v1h-1zM407 449h1v1h-1zM410 449h1v1h-1zM413 449h1v1h-1zM416 449h1v1h-1zM419 449h1v1h-1zM422 449h1v1h-1zM425 449h1v1h-1zM428 449h1v1h-1zM431 449h1v1h-1zM434 449h1v1h-1zM437 449h1v1h-1zM440 449h1v1h-1zM443 449h1v1h-1zM446 449h1v1h-1zM449 449h1v1h-1zM452 449h1v1h-1zM455 449h1v1h-1zM458 449h1v1h-1zM461 449h1v1h-1zM464 449h1v1h-1zM467 449h1v1h-1zM470 449h1v1h-1zM473 449h1v1h-1zM476 449h1v1h-1zM479 449h1v1h-1zM482 449h1v1h-1zM485 449h1v1h-1zM488 449h1v1h-1zM491 449h1v1h-1zM494 449h1v1h-1zM497 449h1v1h-1zM500 449h1v1h-1zM503 449h1v1h-1zM506 449h1v1h-1zM509 449h1v1h-1zM512 449h1v1h-1zM515 449h1v1h-1zM518 449h1v1h-1zM521 449h1v1h-1zM524 449h1v1h-1zM527 449h1v1h-1zM530 449h1v1h-1zM533 449h1v1h-1zM536 449h1v1h-1zM539 449h1v1h-1zM542 449h1v1h-1zM545 449h1v1h-1zM548 449h1v1h-1zM551 449h1v1h-1zM554 449h1v1h-1zM557 449h1v1h-1zM560 449h1v1h-1zM563 449h1v1h-1zM566 449h1v1h-1zM569 449h1v1h-1zM572 449h1v1h-1zM575 449h1v1h-1zM578 449h1v1h-1zM581 449h1v1h-1zM584 449h1v1h-1zM587 449h1v1h-1zM590 449h1v1h-1zM593 449h1v1h-1zM596 449h1v1h-1zM599 449h1v1h-1zM602 449h1v1h-1zM605 449h1v1h-1zM608 449h1v1h-1zM611 449h1v1h-1zM614 449h1v1h-1zM617 449h1v1h-1zM620 449h1v1h-1zM623 449h1v1h-1zM626 449h1v1h-1zM629 449h1v1h-1zM632 449h1v1h-1zM635 449h1v1h-1zM638 449h1v1h-1zM641 449h1v1h-1zM644 449h1v1h-1zM647 449h1v1h-1zM650 449h1v1h-1zM653 449h1v1h-1zM656 449h1v1h-1zM659 449h1v1h-1zM662 449h1v1h-1zM665 449h1v1h-1zM668 449h1v1h-1zM671 449h1v1h-1zM674 449h1v1h-1zM677 449h1v1h-1zM680 449h1v1h-1zM683 449h1v1h-1zM686 449h1v1h-1zM689 449h1v1h-1zM692 449h1v1h-1zM695 449h1v1h-1zM698 449h1v1h-1zM701 449h1v1h-1zM704 449h1v1h-1zM707 449h1v1h-1zM710 449h1v1h-1zM713 449h1v1h-1zM716 449h1v1h-1zM719 449h1v1h-1zM722 449h1v1h-1zM725 449h1v1h-1zM728 449h1v1h-1zM731 449h1v1h-1zM734 449h1v1h-1zM737 449h1v1h-1zM740 449h1v1h-1zM743 449h1v1h-1zM746 449h1v1h-1zM749 449h1v1h-1zM752 449h1v1h-1zM755 449h1v1h-1zM758 449h1v1h-1zM761 449h1v1h-1zM764 449h1v1h-1zM767 449h1v1h-1zM770 449h1v1h-1zM773 449h1v1h-1zM776 449h1v1h-1zM779 449h1v1h-1zM782 449h1v1h-1zM785 449h1v1h-1zM788 449h1v1h-1zM791 449h1v1h-1zM794 449h1v1h-1zM797 449h1v1h-1zM800 449h1v1h-1zM803 449h1v1h-1zM806 449h1v1h-1zM809 449h1v1h-1zM812 449h1v1h-1zM815 449h1v1h-1zM818 449h1v1h-1zM821 449h1v1h-1zM824 449h1v1h-1zM827 449h1v1h-1zM830 449h1v1h-1zM833 449h1v1h-1zM836 449h1v1h-1zM839 449h1v1h-1zM842 449h1v1h-1zM845 449h1v1h-1zM848 449h1v1h-1zM851 449h1v1h-1zM854 449h1v1h-1zM857 449h1v1h-1zM860 449h1v1h-1zM863 449h1v1h-1zM866 449h1v1h-1zM869 449h1v1h-1zM872 449h1v1h-1zM875 449h1v1h-1zM878 449h1v1h-1zM881 449h1v1h-1zM884 449h1v1h-1zM887 449h1v1h-1zM890 449h1v1h-1zM893 449h1v1h-1zM896 449h1v1h-1zM899 449h1v1h-1zM902 449h1v1h-1zM905 449h1v1h-1zM908 449h1v1h-1zM911 449h1v1h-1zM914 449h1v1h-1zM917 449h1v1h-1zM920 449h1v1h-1zM923 449h1v1h-1zM926 449h1v1h-1zM929 449h1v1h-1zM932 449h1v1h-1zM935 449h1v1h-1zM938 449h1v1h-1zM941 449h1v1h-1zM944 449h1v1h-1zM947 449h1v1h-1zM950 449h1v1h-1zM953 449h1v1h-1zM956 449h1v1h-1zM959 449h1v1h-1zM962 449h1v1h-1zM965 449h1v1h-1zM968 449h1v1h-1zM971 449h1v1h-1zM974 449h1v1h-1zM977 449h1v1h-1zM980 449h1v1h-1zM983 449h1v1h-1zM986 449h1v1h-1zM989 449h1v1h-1zM992 449h1v1h-1zM995 449h1v1h-1zM998 449h1v1h-1zM1001 449h1v1h-1zM1004 449h1v1h-1zM1007 449h1v1h-1zM1010 449h1v1h-1zM1013 449h1v1h-1zM1016 449h1v1h-1zM1019 449h1v1h-1zM1022 449h1v1h-1zM1025 449h1v1h-1zM1028 449h1v1h-1zM1031 449h1v1h-1zM1034 449h1v1h-1zM1037 449h1v1h-1zM1040 449h1v1h-1zM1043 449h1v1h-1zM1046 449h1v1h-1zM1049 449h1v1h-1zM1052 449h1v1h-1zM1055 449h1v1h-1zM1058 449h1v1h-1zM1061 449h1v1h-1zM1064 449h1v1h-1zM1067 449h1v1h-1zM1070 449h1v1h-1zM1073 449h1v1h-1zM1076 449h1v1h-1zM1079 449h1v1h-1zM1082 449h1v1h-1zM1085 449h1v1h-1zM1088 449h1v1h-1zM1091 449h1v1h-1zM1094 449h1v1h-1zM1097 449h1v1h-1zM1100 449h1v1h-1zM1103 449h1v1h-1zM1106 449h1v1h-1zM1109 449h1v1h-1zM1112 449h1v1h-1zM1115 449h1v1h-1zM1118 449h1v1h-1zM1121 449h1v1h-1zM1124 449h1v1h-1zM1127 449h1v1h-1zM1130 449h1v1h-1zM1133 449h1v1h-1zM1136 449h1v1h-1zM1139 449h1v1h-1zM1142 449h1v1h-1zM1145 449h1v1h-1zM1148 449h1v1h-1zM1151 449h1v1h-1zM1154 449h1v1h-1zM1157 449h1v1h-1zM1160 449h1v1h-1zM1163 449h1v1h-1zM1166 449h1v1h-1zM1169 449h1v1h-1zM1172 449h1v1h-1zM1175 449h1v1h-1zM1178 449h1v1h-1zM1181 449h1v1h-1zM1184 449h1v1h-1zM1187 449h1v1h-1zM1190 449h1v1h-1zM1193 449h1v1h-1zM1196 449h1v1h-1zM1199 449h1v1h-1zM1202 449h1v1h-1zM1205 449h1v1h-1zM1208 449h1v1h-1zM1211 449h1v1h-1zM1214 449h1v1h-1zM1217 449h1v1h-1zM1220 449h1v1h-1zM1223 449h1v1h-1zM1226 449h1v1h-1zM1229 449h1v1h-1zM1232 449h1v1h-1zM1235 449h1v1h-1zM1238 449h1v1h-1zM1241 449h1v1h-1zM1244 449h1v1h-1zM1247 449h1v1h-1zM1250 449h1v1h-1zM1253 449h1v1h-1zM1256 449h1v1h-1zM1259 449h1v1h-1zM1262 449h1v1h-1zM1265 449h1v1h-1zM1268 449h1v1h-1zM1271 449h1v1h-1zM1274 449h1v1h-1zM1277 449h1v1h-1zM1280 449h1v1h-1zM1283 449h1v1h-1zM1286 449h1v1h-1zM1289 449h1v1h-1zM1292 449h1v1h-1zM1295 449h1v1h-1zM1298 449h1v1h-1zM1301 449h1v1h-1zM1304 449h1v1h-1zM1307 449h1v1h-1zM1310 449h1v1h-1zM1313 449h1v1h-1zM1316 449h1v1h-1zM1319 449h1v1h-1zM1322 449h1v1h-1zM1325 449h1v1h-1zM1328 449h1v1h-1zM1331 449h1v1h-1zM1334 449h1v1h-1zM1337 449h1v1h-1zM1340 449h1v1h-1zM1343 449h1v1h-1zM1346 449h1v1h-1zM1349 449h1v1h-1zM1352 449h1v1h-1zM1355 449h1v1h-1zM1358 449h1v1h-1zM1361 449h1v1h-1zM1364 449h1v1h-1zM1367 449h1v1h-1zM1370 449h1v1h-1zM1373 449h1v1h-1zM1376 449h1v1h-1zM1379 449h1v1h-1zM1382 449h1v1h-1zM1385 449h1v1h-1zM1388 449h1v1h-1zM1391 449h1v1h-1zM1394 449h1v1h-1zM1397 449h1v1h-1zM1400 449h1v1h-1zM1403 449h1v1h-1zM1406 449h1v1h-1zM1409 449h1v1h-1zM1412 449h1v1h-1zM1415 449h1v1h-1zM1418 449h1v1h-1zM1421 449h1v1h-1zM1424 449h1v1h-1zM1427 449h1v1h-1zM1430 449h1v1h-1zM1433 449h1v1h-1zM1436 449h1v1h-1zM1439 449h1v1h-1zM1442 449h1v1h-1zM1445 449h1v1h-1zM1448 449h1v1h-1zM1451 449h1v1h-1zM1454 449h1v1h-1zM1457 449h1v1h-1zM1460 449h1v1h-1zM1463 449h1v1h-1zM1466 449h1v1h-1zM1469 449h1v1h-1zM1472 449h1v1h-1zM1475 449h1v1h-1zM1478 449h1v1h-1zM1481 449h1v1h-1zM1484 449h1v1h-1zM1487 449h1v1h-1zM1490 449h1v1h-1zM1493 449h1v1h-1zM1496 449h1v1h-1zM1499 449h1v1h-1zM1502 449h1v1h-1zM1505 449h1v1h-1zM1508 449h1v1h-1zM1511 449h1v1h-1zM1514 449h1v1h-1zM1517 449h1v1h-1zM1520 449h1v1h-1zM1523 449h1v1h-1zM1526 449h1v1h-1zM1529 449h1v1h-1zM1532 449h1v1h-1zM1535 449h1v1h-1zM1538 449h1v1h-1zM1541 449h1v1h-1zM1544 449h1v1h-1zM1547 449h1v1h-1zM1550 449h1v1h-1zM1553 449h1v1h-1zM1556 449h1v1h-1zM1559 449h1v1h-1zM1562 449h1v1h-1zM1565 449h1v1h-1zM1568 449h1v1h-1zM1571 449h1v1h-1zM1574 449h1v1h-1zM1577 449h1v1h-1zM1580 449h1v1h-1zM1583 449h1v1h-1zM1586 449h1v1h-1zM1589 449h1v1h-1zM1592 449h1v1h-1zM1595 449h1v1h-1zM1598 449h1v1h-1zM1601 449h1v1h-1zM1604 449h1v1h-1zM1607 449h1v1h-1zM1610 449h1v1h-1zM1613 449h1v1h-1zM1616 449h1v1h-1zM1619 449h1v1h-1zM1622 449h1v1h-1zM1625 449h1v1h-1zM1628 449h1v1h-1zM1631 449h1v1h-1zM1634 449h1v1h-1zM1637 449h1v1h-1zM1640 449h1v1h-1zM1643 449h1v1h-1zM1646 449h1v1h-1zM1649 449h1v1h-1zM1652 449h1v1h-1zM1655 449h1v1h-1zM1658 449h1v1h-1zM1661 449h1v1h-1zM1664 449h1v1h-1zM1667 449h1v1h-1zM1670 449h1v1h-1zM1673 449h1v1h-1zM1676 449h1v1h-1zM1679 449h1v1h-1zM1682 449h1v1h-1zM1685 449h1v1h-1zM1688 449h1v1h-1zM1691 449h1v1h-1zM1694 449h1v1h-1zM1697 449h1v1h-1zM1700 449h1v1h-1zM1703 449h1v1h-1zM1706 449h1v1h-1zM1709 449h1v1h-1zM1712 449h1v1h-1zM1715 449h1v1h-1zM1718 449h1v1h-1zM1721 449h1v1h-1zM1724 449h1v1h-1zM1727 449h1v1h-1zM1730 449h1v1h-1zM1733 449h1v1h-1zM1736 449h1v1h-1zM1739 449h1v1h-1zM1742 449h1v1h-1zM1745 449h1v1h-1zM1748 449h1v1h-1zM1751 449h1v1h-1z"/>
</g>
<rect x="3" y="28" width="176" height="44" fill="#fff" fill-opacity="0.55"/>
<text x="7.5" y="20.6" font-size="14" fill="#131722" textLength="73.0" lengthAdjust="spacingAndGlyphs">Ger40<tspan fill="#b2b5be"> · </tspan>4h</text>
<circle cx="104" cy="15" r="9" fill="#089981" fill-opacity="0.15"/><circle cx="104" cy="15" r="4.3" fill="#089981"/>
<text x="128.4" y="20.5" font-size="13" fill="#434651" textLength="9.2" lengthAdjust="spacingAndGlyphs">O</text>
<text x="138.3" y="20.5" font-size="13" fill="#ef5350" textLength="53.0" lengthAdjust="spacingAndGlyphs">15399.89</text>
<text x="196.9" y="20.5" font-size="13" fill="#434651" textLength="8.8" lengthAdjust="spacingAndGlyphs">H</text>
<text x="206.4" y="20.5" font-size="13" fill="#ef5350" textLength="53.0" lengthAdjust="spacingAndGlyphs">15399.89</text>
<text x="265.2" y="20.5" font-size="13" fill="#434651" textLength="6.3" lengthAdjust="spacingAndGlyphs">L</text>
<text x="272.2" y="20.5" font-size="13" fill="#ef5350" textLength="53.0" lengthAdjust="spacingAndGlyphs">15287.40</text>
<text x="330.5" y="20.5" font-size="13" fill="#434651" textLength="8.6" lengthAdjust="spacingAndGlyphs">C</text>
<text x="339.7" y="20.5" font-size="13" fill="#ef5350" textLength="53.0" lengthAdjust="spacingAndGlyphs">15346.45</text>
<text x="398.0" y="20.5" font-size="13" fill="#ef5350" textLength="38.5" lengthAdjust="spacingAndGlyphs">−49.41</text>
<text x="441.8" y="20.5" font-size="13" fill="#ef5350" textLength="49.5" lengthAdjust="spacingAndGlyphs">(−0.32%)</text>
<rect x="7.5" y="31.5" width="68" height="37" rx="4" fill="#fff" stroke="#f44336"/>
<text x="15.1" y="54.7" font-size="13" fill="#f44336" textLength="52.8" lengthAdjust="spacingAndGlyphs">15346.45</text>
<rect x="106.5" y="31.5" width="68" height="37" rx="4" fill="#fff" stroke="#26a69a"/>
<text x="114.2" y="54.7" font-size="13" fill="#26a69a" textLength="52.8" lengthAdjust="spacingAndGlyphs">15347.66</text>
<text x="80.2" y="41.7" font-size="10.5" fill="#4a4e59" textLength="20.5" lengthAdjust="spacingAndGlyphs">1.21</text>
<rect x="80" y="47" width="22" height="21.5" rx="4" fill="#f7f8fc"/>
<text x="91.0" y="61.8" font-size="12" fill="#0a0a5a" text-anchor="middle">1</text>
<text x="8.0" y="90.0" font-size="13" fill="#131722" textLength="24.6" lengthAdjust="spacingAndGlyphs">EMA</text>
<text x="35.2" y="90.0" font-size="13" fill="#5d606b" textLength="66.0" lengthAdjust="spacingAndGlyphs">233 close 0</text>
<text x="108.5" y="90.0" font-size="13" fill="#9c27b0" textLength="52.5" lengthAdjust="spacingAndGlyphs">15139.75</text>
<text x="8.0" y="114.2" font-size="13" fill="#131722" textLength="24.6" lengthAdjust="spacingAndGlyphs">EMA</text>
<text x="35.2" y="114.2" font-size="13" fill="#5d606b" textLength="66.0" lengthAdjust="spacingAndGlyphs">144 close 0</text>
<text x="108.5" y="114.2" font-size="13" fill="#e91e63" textLength="52.5" lengthAdjust="spacingAndGlyphs">15311.16</text>
<rect x="8.5" y="123.5" width="28" height="20" rx="3" fill="#fff" stroke="#d1d4dc"/>
<path d="M18.4 135.6 L22.5 131.6 L26.6 135.6" fill="none" stroke="#131722" stroke-width="1.6"/>
<rect x="1754" y="0" width="92" height="817" fill="#fff"/>
<g shape-rendering="crispEdges" fill="#e0e2e7">
<rect x="1754" y="0" width="1" height="817"/>
<rect x="0" y="782" width="1846" height="1"/>
<rect x="1755" y="26" width="4" height="1"/>
<rect x="1755" y="106" width="4" height="1"/>
<rect x="1755" y="187" width="4" height="1"/>
<rect x="1755" y="267" width="4" height="1"/>
<rect x="1755" y="347" width="4" height="1"/>
<rect x="1755" y="428" width="4" height="1"/>
<rect x="1755" y="508" width="4" height="1"/>
<rect x="1755" y="589" width="4" height="1"/>
<rect x="1755" y="669" width="4" height="1"/>
<rect x="1755" y="750" width="4" height="1"/>
<rect x="51" y="783" width="1" height="4"/>
<rect x="159" y="783" width="1" height="4"/>
<rect x="266" y="783" width="1" height="4"/>
<rect x="374" y="783" width="1" height="4"/>
<rect x="482" y="783" width="1" height="4"/>
<rect x="589" y="783" width="1" height="4"/>
<rect x="733" y="783" width="1" height="4"/>
<rect x="840" y="783" width="1" height="4"/>
<rect x="948" y="783" width="1" height="4"/>
<rect x="1055" y="783" width="1" height="4"/>
<rect x="1163" y="783" width="1" height="4"/>
<rect x="1271" y="783" width="1" height="4"/>
<rect x="1456" y="783" width="1" height="4"/>
<rect x="1564" y="783" width="1" height="4"/>
<rect x="1671" y="783" width="1" height="4"/>
</g>
<text x="1765.8" y="31.9" font-size="16.6" fill="#131722" textLength="69.3" lengthAdjust="spacingAndGlyphs" stroke="#131722" stroke-width="0.25">16400.00</text>
<text x="1765.8" y="111.9" font-size="16.6" fill="#131722" textLength="69.3" lengthAdjust="spacingAndGlyphs" stroke="#131722" stroke-width="0.25">16200.00</text>
<text x="1765.8" y="192.9" font-size="16.6" fill="#131722" textLength="69.3" lengthAdjust="spacingAndGlyphs" stroke="#131722" stroke-width="0.25">16000.00</text>
<text x="1765.8" y="272.9" font-size="16.6" fill="#131722" textLength="69.3" lengthAdjust="spacingAndGlyphs" stroke="#131722" stroke-width="0.25">15800.00</text>
<text x="1765.8" y="352.9" font-size="16.6" fill="#131722" textLength="69.3" lengthAdjust="spacingAndGlyphs" stroke="#131722" stroke-width="0.25">15600.00</text>
<text x="1765.8" y="433.9" font-size="16.6" fill="#131722" textLength="69.3" lengthAdjust="spacingAndGlyphs" stroke="#131722" stroke-width="0.25">15400.00</text>
<text x="1765.8" y="513.9" font-size="16.6" fill="#131722" textLength="69.3" lengthAdjust="spacingAndGlyphs" stroke="#131722" stroke-width="0.25">15200.00</text>
<text x="1765.8" y="594.9" font-size="16.6" fill="#131722" textLength="69.3" lengthAdjust="spacingAndGlyphs" stroke="#131722" stroke-width="0.25">15000.00</text>
<text x="1765.8" y="674.9" font-size="16.6" fill="#131722" textLength="69.3" lengthAdjust="spacingAndGlyphs" stroke="#131722" stroke-width="0.25">14800.00</text>
<text x="1765.8" y="755.9" font-size="16.6" fill="#131722" textLength="69.3" lengthAdjust="spacingAndGlyphs" stroke="#131722" stroke-width="0.25">14600.00</text>
<path d="M1754 54 h87 a2 2 0 0 1 2 2 v21 a2 2 0 0 1 -2 2 h-87 z" fill="#f44336"/>
<rect x="1754" y="66" width="5" height="1" fill="#fff" shape-rendering="crispEdges"/>
<text x="1767.3" y="73.3" font-size="16.6" fill="#fff" textLength="69.5" lengthAdjust="spacingAndGlyphs" stroke="#fff" stroke-width="0.5">16300.27</text>
<path d="M1754 482 h87 a2 2 0 0 1 2 2 v21 a2 2 0 0 1 -2 2 h-87 z" fill="#4caf50"/>
<rect x="1754" y="494" width="5" height="1" fill="#fff" shape-rendering="crispEdges"/>
<text x="1767.3" y="501.3" font-size="16.6" fill="#fff" textLength="69.5" lengthAdjust="spacingAndGlyphs" stroke="#fff" stroke-width="0.5">15236.49</text>
<path d="M1754 585 h87 a2 2 0 0 1 2 2 v21 a2 2 0 0 1 -2 2 h-87 z" fill="#4caf50"/>
<rect x="1754" y="597" width="5" height="1" fill="#fff" shape-rendering="crispEdges"/>
<text x="1767.3" y="604.3" font-size="16.6" fill="#fff" textLength="69.5" lengthAdjust="spacingAndGlyphs" stroke="#fff" stroke-width="0.5">14978.67</text>
<path d="M1694 437 h59 v25 h-59 a2 2 0 0 1 -2 -2 v-21 a2 2 0 0 1 2 -2 z" fill="#ef5350"/>
<text x="1698.5" y="456.6" font-size="16.6" fill="#fff" textLength="46.5" lengthAdjust="spacingAndGlyphs" stroke="#fff" stroke-width="0.5">Ger40</text>
<path d="M1754 437 h87 a2 2 0 0 1 2 2 v21 a2 2 0 0 1 -2 2 h-87 z" fill="#ef5350"/>
<rect x="1754" y="449" width="5" height="1" fill="#fff" shape-rendering="crispEdges"/>
<text x="1767.3" y="456.3" font-size="16.6" fill="#fff" textLength="69.5" lengthAdjust="spacingAndGlyphs" stroke="#fff" stroke-width="0.5">15346.45</text>
<rect x="0" y="776" width="1" height="22" fill="#d9deea"/>
<text x="51.5" y="805.7" font-size="16.6" fill="#131722" textLength="8.8" lengthAdjust="spacingAndGlyphs" text-anchor="middle" stroke="#131722" stroke-width="0.25">5</text>
<text x="159.5" y="805.7" font-size="16.6" fill="#131722" textLength="17.5" lengthAdjust="spacingAndGlyphs" text-anchor="middle" stroke="#131722" stroke-width="0.25">10</text>
<text x="266.5" y="805.7" font-size="16.6" fill="#131722" textLength="17.5" lengthAdjust="spacingAndGlyphs" text-anchor="middle" stroke="#131722" stroke-width="0.25">13</text>
<text x="374.5" y="805.7" font-size="16.6" fill="#131722" textLength="17.5" lengthAdjust="spacingAndGlyphs" text-anchor="middle" stroke="#131722" stroke-width="0.25">18</text>
<text x="482.5" y="805.7" font-size="16.6" fill="#131722" textLength="17.5" lengthAdjust="spacingAndGlyphs" text-anchor="middle" stroke="#131722" stroke-width="0.25">23</text>
<text x="589.5" y="805.7" font-size="16.6" fill="#131722" textLength="17.5" lengthAdjust="spacingAndGlyphs" text-anchor="middle" stroke="#131722" stroke-width="0.25">26</text>
<text x="733.5" y="805.7" font-size="16.6" fill="#131722" textLength="28.4" lengthAdjust="spacingAndGlyphs" font-weight="bold" text-anchor="middle">Feb</text>
<text x="840.5" y="805.7" font-size="16.6" fill="#131722" textLength="8.8" lengthAdjust="spacingAndGlyphs" text-anchor="middle" stroke="#131722" stroke-width="0.25">6</text>
<text x="948.5" y="805.7" font-size="16.6" fill="#131722" textLength="8.8" lengthAdjust="spacingAndGlyphs" text-anchor="middle" stroke="#131722" stroke-width="0.25">9</text>
<text x="1055.5" y="805.7" font-size="16.6" fill="#131722" textLength="17.5" lengthAdjust="spacingAndGlyphs" text-anchor="middle" stroke="#131722" stroke-width="0.25">14</text>
<text x="1163.5" y="805.7" font-size="16.6" fill="#131722" textLength="17.5" lengthAdjust="spacingAndGlyphs" text-anchor="middle" stroke="#131722" stroke-width="0.25">17</text>
<text x="1271.5" y="805.7" font-size="16.6" fill="#131722" textLength="17.5" lengthAdjust="spacingAndGlyphs" text-anchor="middle" stroke="#131722" stroke-width="0.25">22</text>
<text x="1456.5" y="805.7" font-size="16.6" fill="#131722" textLength="28.4" lengthAdjust="spacingAndGlyphs" font-weight="bold" text-anchor="middle">Mar</text>
<text x="1564.5" y="805.7" font-size="16.6" fill="#131722" textLength="8.8" lengthAdjust="spacingAndGlyphs" text-anchor="middle" stroke="#131722" stroke-width="0.25">6</text>
<text x="1671.5" y="805.7" font-size="16.6" fill="#131722" textLength="8.8" lengthAdjust="spacingAndGlyphs" text-anchor="middle" stroke="#131722" stroke-width="0.25">9</text>
<g stroke="#131722" fill="none" stroke-width="1.1"><circle cx="1801.5" cy="801.5" r="4.9"/>
<line x1="1806.70" y1="801.50" x2="1808.90" y2="801.50"/>
<line x1="1805.18" y1="805.18" x2="1806.73" y2="806.73"/>
<line x1="1801.50" y1="806.70" x2="1801.50" y2="808.90"/>
<line x1="1797.82" y1="805.18" x2="1796.27" y2="806.73"/>
<line x1="1796.30" y1="801.50" x2="1794.10" y2="801.50"/>
<line x1="1797.82" y1="797.82" x2="1796.27" y2="796.27"/>
<line x1="1801.50" y1="796.30" x2="1801.50" y2="794.10"/>
<line x1="1805.18" y1="797.82" x2="1806.73" y2="796.27"/>
</g>
</svg></body></html>
